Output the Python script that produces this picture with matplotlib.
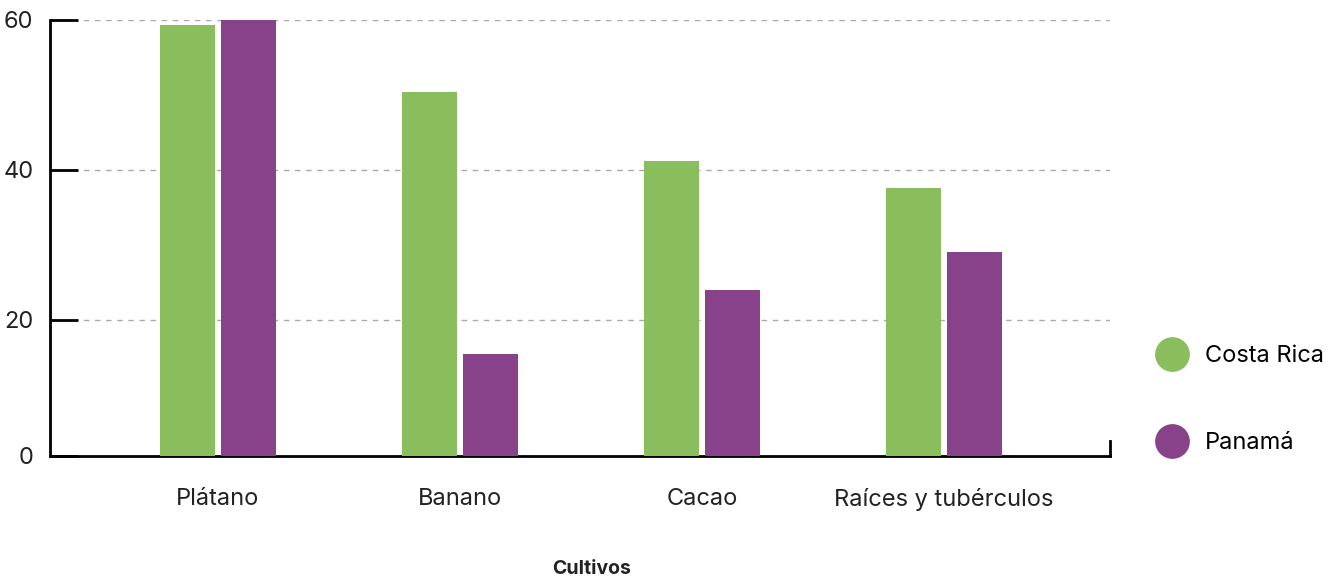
import matplotlib.pyplot as plt
from matplotlib.lines import Line2D
import numpy as np

plt.rcParams['font.family'] = ['Inter', 'DejaVu Sans']

cultivos = ['Plátano', 'Banano', 'Cacao', 'Raíces y tubérculos']
costa_rica = [59.3, 50.4, 41.2, 37.6]
panama = [60.0, 15.5, 24.0, 29.1]

verde = '#8abd5c'
morado = '#88428a'

fig = plt.figure(figsize=(13.35, 5.78), dpi=100)
ax = fig.add_axes([50 / 1335, 1 - 456 / 578, 1060 / 1335, 436 / 578])

x = np.arange(len(cultivos))
w = 0.227
ax.bar(x - 0.126, costa_rica, w, color=verde, zorder=3)
ax.bar(x + 0.126, panama, w, color=morado, zorder=3)

ymin = 60 - 436 / 7.5
ax.set_ylim(ymin, 60)
ax.set_xlim(-0.694, 3.686)
ax.set_yticks([ymin, 20, 40, 60])
ax.set_yticklabels(['0', '20', '40', '60'], fontsize=17, color='#222222')
ax.set_xticks(x)
ax.set_xticklabels(cultivos, fontsize=17, color='#222222')
ax.tick_params(axis='y', direction='in', length=20, width=2, pad=12)
ax.tick_params(axis='x', length=0, pad=23)

for s in ['top', 'right']:
    ax.spines[s].set_visible(False)
for s in ['left', 'bottom']:
    ax.spines[s].set_linewidth(2)

for v in [20, 40, 60]:
    ax.axhline(v, color='#aaaaaa', lw=1, ls=(0, (4, 4)), zorder=1)

# little tick at the right end of the x axis
ax.plot([1, 1], [0, 0.035], transform=ax.transAxes, color='black', lw=2, clip_on=False)

fig.text(592 / 1335, 1 - 569 / 578, 'Cultivos', fontsize=14, fontweight='bold',
         ha='center', va='center', color='#222222')

handles = [Line2D([], [], ls='none', marker='o', markersize=24, color=verde),
           Line2D([], [], ls='none', marker='o', markersize=24, color=morado)]
fig.legend(handles, ['Costa Rica', 'Panamá'], loc='center left',
           bbox_to_anchor=(1127 / 1335, 1 - 399.5 / 578), frameon=False,
           fontsize=17, labelspacing=2.75, handletextpad=0.4)

plt.savefig('out.png')
